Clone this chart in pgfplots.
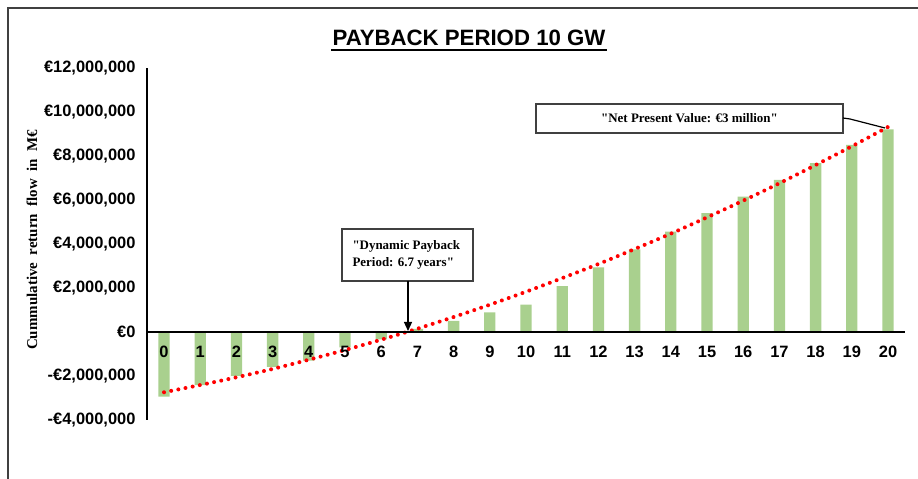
\documentclass[border=0pt]{standalone}
\usepackage{fontspec}
\setmainfont{Liberation Sans}
\newfontfamily\tnr{Liberation Serif}
\usepackage{pgfplots}
\pgfplotsset{compat=1.18}
\usetikzlibrary{arrows.meta}
\definecolor{bargreen}{RGB}{169,208,142}
\definecolor{frame}{RGB}{64,64,64}

\begin{document}
\begin{tikzpicture}[x=1bp,y=1bp]
\useasboundingbox (0,0) rectangle (918,479);
% frame (cut at right and bottom in the reference)
\draw[frame, line width=1.6bp] (8,0) -- (8,471) -- (918,471);

\begin{axis}[
    at={(147bp,59bp)}, anchor=south west,
    x=36.2bp, y=22bp,
    xmin=-0.47, xmax=20.47, ymin=-4, ymax=12,
    axis x line=middle, axis y line=left,
    axis line style={-, black, line width=1.5bp},
    axis on top,
    xtick={0,...,20}, ytick={-4,-2,...,12},
    yticklabels={{-€4,000,000},{-€2,000,000},{€0},{€2,000,000},{€4,000,000},{€6,000,000},{€8,000,000},{€10,000,000},{€12,000,000}},
    major tick length=0pt,
    tick label style={font=\fontsize{16.5}{19}\selectfont\bfseries},
    /pgf/number format/assume math mode=true,
    xticklabel style={yshift=-11bp},
    yticklabel style={xshift=-8bp},
    clip=false,
]
% cumulative discounted return flow, million EUR
\addplot[ybar, bar width=11.3bp, fill=bargreen, draw=none] coordinates {
    (0,-2.94) (1,-2.41) (2,-1.99) (3,-1.58) (4,-1.30) (5,-0.70) (6,-0.33)
    (7,0.14) (8,0.51) (9,0.89) (10,1.24) (11,2.09) (12,2.94) (13,3.76)
    (14,4.56) (15,5.40) (16,6.15) (17,6.91) (18,7.67) (19,8.50) (20,9.21)
};
% trend line
\addplot[red, line width=4bp, line cap=round, dash pattern=on 0pt off 7.3bp, smooth] coordinates {
    (0,-2.74) (1,-2.41) (2,-2.06) (3,-1.68) (4,-1.26) (5,-0.82) (6,-0.35)
    (7,0.15) (8,0.68) (9,1.24) (10,1.83) (11,2.45) (12,3.09) (13,3.77)
    (14,4.47) (15,5.21) (16,5.97) (17,6.76) (18,7.59) (19,8.44) (20,9.32)
};
\end{axis}

% title
\node[font=\fontsize{22.3}{26}\selectfont\bfseries, anchor=base] at (469,433) {PAYBACK PERIOD 10 GW};
\draw[line width=1.8bp] (331,429) -- (607,429);

% y label
\node[font=\tnr\fontsize{15}{17}\selectfont\bfseries, rotate=90] at (32,239) {Cummulative\ \ return\ \ flow\ \ in\ \ M€};

% payback annotation
\draw[frame, line width=1.5bp, fill=white] (342,198) rectangle (473,250);
\node[font=\tnr\fontsize{13}{16.5}\selectfont\bfseries, align=left, anchor=west] at (349,224) {"Dynamic Payback\\Period: 6.7 years"};
\draw[line width=1.2bp, -{Triangle[length=9bp,width=8bp]}] (408,198) -- (408,148);

% NPV annotation
\draw[frame, line width=1.5bp, fill=white] (536,346) rectangle (843,375);
\node[font=\tnr\fontsize{13}{16}\selectfont\bfseries] at (689.5,360.5) {"Net Present Value: €3 million"};
\draw[line width=1.2bp] (843,361) -- (850,360) -- (885,351);
\end{tikzpicture}
\end{document}
